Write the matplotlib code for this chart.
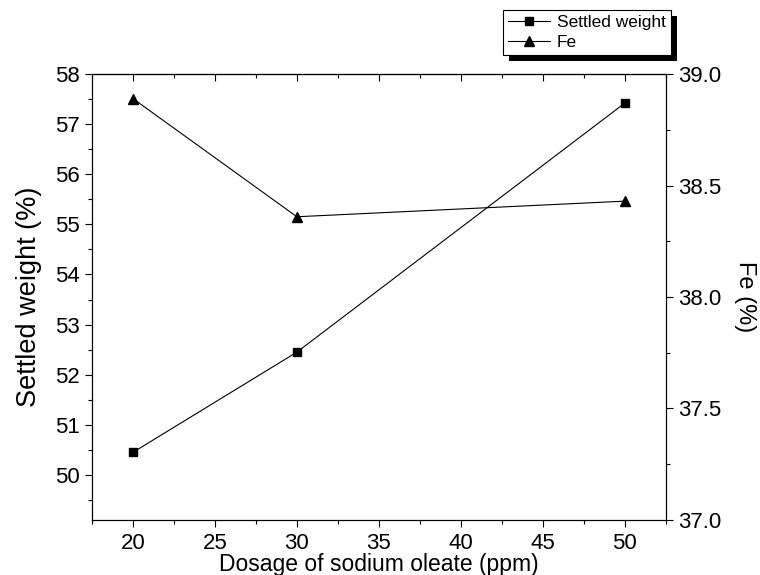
import matplotlib
matplotlib.use("Agg")
import matplotlib.pyplot as plt
from matplotlib.patches import Rectangle
from matplotlib.ticker import MultipleLocator

plt.rcParams['font.family'] = ['Liberation Sans', 'DejaVu Sans']

dosage = [20, 30, 50]
settled_weight = [50.45, 52.45, 57.42]
fe = [38.89, 38.36, 38.43]

fig = plt.figure(figsize=(7.6, 5.75), dpi=100)
ax = fig.add_axes([0.121, 0.0957, 0.755, 0.7755])
ax2 = ax.twinx()

l1, = ax.plot(dosage, settled_weight, color='black', lw=0.8, marker='s', ms=6,
              label='Settled weight')
l2, = ax2.plot(dosage, fe, color='black', lw=0.8, marker='^', ms=7.5, label='Fe')

ax.set_xlim(17.5, 52.5)
ax.set_ylim(49.1, 58)
ax2.set_ylim(37.0, 39.0)

ax.xaxis.set_major_locator(MultipleLocator(5))
ax.xaxis.set_minor_locator(MultipleLocator(2.5))
ax.yaxis.set_major_locator(MultipleLocator(1))
ax.yaxis.set_minor_locator(MultipleLocator(0.5))
ax2.yaxis.set_major_locator(MultipleLocator(0.5))
ax2.yaxis.set_minor_locator(MultipleLocator(0.25))
ax2.yaxis.set_major_formatter('{x:.1f}')

for a in (ax, ax2):
    a.tick_params(which='major', length=5, width=0.8, labelsize=16, direction='out', pad=4)
    a.tick_params(which='minor', length=3, width=0.8, direction='out')
    for s in a.spines.values():
        s.set_linewidth(0.8)
ax.tick_params(axis='x', pad=4.5)

# inward ticks along the top edge
top = ax.secondary_xaxis('top')
top.xaxis.set_major_locator(MultipleLocator(5))
top.xaxis.set_minor_locator(MultipleLocator(2.5))
top.tick_params(which='major', direction='in', length=5, width=0.8, labeltop=False)
top.tick_params(which='minor', direction='in', length=3, width=0.8)

ax.set_xlabel('Dosage of sodium oleate (ppm)', fontsize=16.5)
ax.xaxis.set_label_coords(0.5, -0.074)
ax.set_ylabel('Settled weight (%)', fontsize=19.5, labelpad=9)
ax2.set_ylabel('Fe (%)', fontsize=17, rotation=270, labelpad=25)

leg = fig.legend(handles=[l1, l2], loc='upper left', bbox_to_anchor=(0.662, 0.983),
                 borderaxespad=0, fancybox=False, edgecolor='black', framealpha=1,
                 fontsize=12.5, handlelength=2.4, handletextpad=0.4,
                 borderpad=0.3, labelspacing=0.25)
leg.get_frame().set_linewidth(0.8)
leg.set_zorder(5)

fig.canvas.draw()
bb = leg.get_window_extent().transformed(fig.transFigure.inverted())
dx, dy = 6 / 760, 6 / 575
fig.patches.append(Rectangle((bb.x0 + dx, bb.y0 - dy), bb.width, bb.height,
                             transform=fig.transFigure, facecolor='black',
                             edgecolor='none', zorder=4))

fig.savefig('out.png', dpi=100)
